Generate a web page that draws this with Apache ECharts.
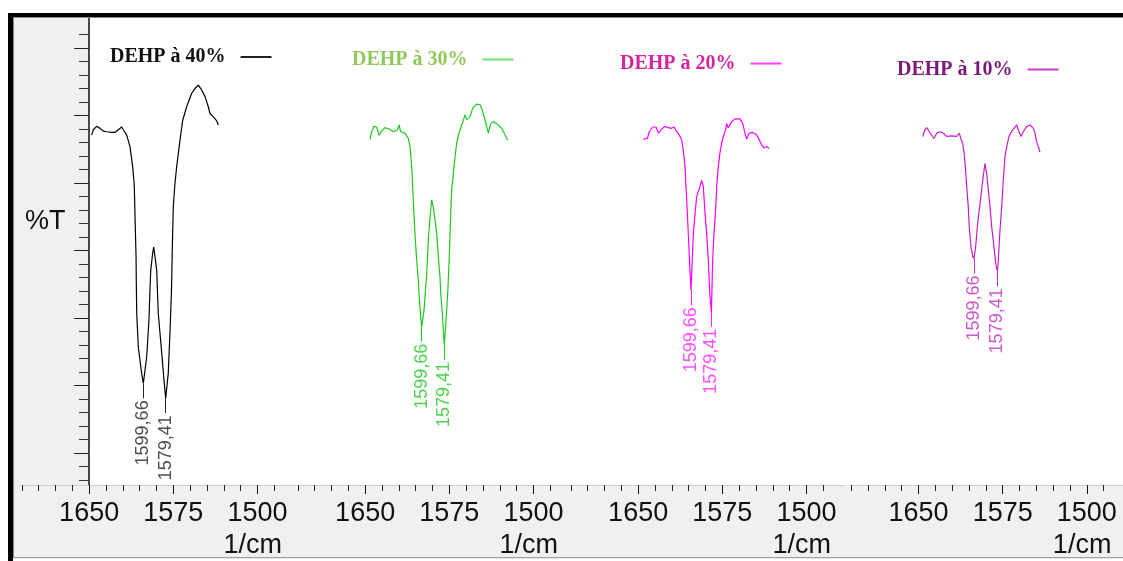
<!DOCTYPE html>
<html><head><meta charset="utf-8">
<script src="https://cdn.jsdelivr.net/npm/echarts@6/dist/echarts.min.js"></script>
<style>html,body{margin:0;padding:0;background:#fff}#c{width:1123px;height:561px}</style>
</head><body><div id="c"></div>
<script>
// ---------- DATA ----------
const seriesNames = ['DEHP à 40%', 'DEHP à 30%', 'DEHP à 20%', 'DEHP à 10%'];
const yAxisTitle = '%T';
const xAxisTitle = '1/cm';

const wn40 = [1647.7,1646.3,1643.3,1640.3,1637.4,1634.4,1629.9,1627,1624,1621,1619.6,1616.5,1613.6,1611.2,1609.8,1609.1,1608.2,1608,1607.6,1606.2,1603.2,1601.7,1598.7,1596.7,1595.8,1595.1,1593.4,1592.5,1591.3,1589.8,1588.4,1585.3,1583.3,1581.8,1579.5,1577.9,1576.6,1575.9,1575,1573.5,1572,1569,1566.6,1563.1,1558.6,1555.7,1552.7,1549.7,1546.7,1543.8,1542.3,1539.3,1536.3,1534.9];
const t40  = [57.1,57.9,58.4,58.1,57.7,57.6,57.5,57.5,57.9,58.3,57.9,57.1,55.4,52.4,49.7,45,39.1,35.6,30.7,25.7,21.8,20.3,24.3,29.7,34.1,37.1,39.6,40.5,39.1,37.1,30.7,24.8,20.8,18.1,21.8,28.2,34.1,40.3,46.5,50,52.4,56.4,59.3,61.3,63.3,64,64.5,63.8,62.8,61.3,60.3,59.8,59.2,58.6];

const wn30 = [1645.7,1644.2,1642.1,1639.7,1637.7,1635.2,1632.3,1628.5,1624.9,1621.3,1619.8,1618.3,1614.5,1611.5,1610,1608.5,1607.1,1605.6,1604.1,1602.6,1601.7,1600.5,1599.6,1597.5,1596,1595.1,1593.7,1592.2,1590.7,1589.3,1587.7,1586.2,1584.8,1583.3,1582.7,1581.2,1580.3,1579.5,1577.9,1576.4,1575,1573.8,1572.9,1571.4,1569.9,1568.4,1566.4,1563.9,1562.5,1561,1559.5,1556.6,1554.1,1550.6,1547.6,1545.6,1543.2,1540.2,1538.1,1535.8,1531.3,1528.3,1526.2,1523.8,1522.4];
const t30  = [56.5,57.6,58.4,58.3,57.1,57.7,58.2,58,57.6,57.9,58.6,57.6,57.4,56.6,55.4,52.4,47.5,42.5,38.6,35.6,32.7,30.2,28.7,31.2,34.6,36.6,41.6,45,47.5,46.5,44.5,42.5,39.1,36.1,33.7,30.7,28.2,26,29.7,33.7,39.1,45,49,51.4,53.9,55.9,57.4,58.6,59.3,60.1,59.4,59.8,61.1,61.7,61.6,60.8,59.3,57.4,58.8,59.1,58.6,58.1,57.4,56.6,56.4];

const wn20 = [1645.4,1641.8,1640.1,1637,1634.1,1632,1629,1626.1,1623.1,1620.7,1618,1615.6,1613.3,1611.2,1609.8,1608.2,1607.4,1606.7,1605.3,1604.4,1603.6,1602.9,1600.8,1599.3,1597.8,1594.9,1593.4,1591.9,1590.4,1588.9,1587.5,1586,1584.7,1583.6,1582.4,1581.1,1580,1578.6,1577,1575.5,1574.1,1572,1571.1,1569.7,1566.6,1563.7,1559.2,1556.8,1554.8,1553.3,1551.2,1547.9,1544.3,1542,1539.9,1537.8,1535.4,1533.1];
const t20  = [56.5,56.6,57.6,58.3,58.3,57.4,58,58.4,58.2,58.1,58.3,57.6,57.1,56.4,54.9,52.4,49.5,47.5,42.5,39.1,36.4,34.1,42.5,45.5,48,49.5,50.4,49.5,45.5,42.5,38.6,33.2,30.9,38.6,42.5,45.5,49.5,52.4,54.6,55.9,56.9,57.9,58.8,58.2,59.1,59.5,59.5,58.8,57.4,56.5,57.4,57.5,57.1,56.4,55.6,55.2,55.4,55.1];

const wn10 = [1646.3,1644.3,1642.7,1640.4,1636.2,1633.8,1630.9,1627.9,1624.9,1620.5,1616,1613.7,1612.4,1610.7,1609.5,1608.3,1607.1,1605.7,1604.8,1603.3,1601.7,1600.6,1599.1,1597.3,1594.8,1592.8,1590.8,1589.3,1587.8,1586.3,1584.8,1582.8,1581.2,1579.7,1578.9,1577.6,1575.9,1574.5,1573,1571.4,1569.4,1567,1564.9,1562.5,1560.5,1558.7,1556.6,1553.6,1550.7,1547.7,1546.2,1544.7,1543.3,1541.8];
const t10  = [56.9,57.9,58.2,57.6,56.6,57.4,57.6,57.4,56.9,57,56.9,57.4,56.6,55.9,54.6,52.4,49.5,46.5,43.5,40.6,39.1,38.8,40.6,44,47.5,50.4,52.9,51.4,49,46.5,43.5,40.6,38.1,36.9,38.6,42.5,46.5,50.4,53.9,55.4,56.9,57.7,58.1,58.6,57.6,56.9,57.6,58.4,58.6,58.1,57.4,56.1,55.4,54.6];

// annotated band minima [wavenumber, %T] and their labels
const peakLabels = ['1599,66', '1579,41'];
const peaks40 = [[1601.7, 20.3], [1581.8, 18.1]];
const peaks30 = [[1599.6, 28.7], [1579.5, 26.0]];
const peaks20 = [[1602.9, 34.1], [1584.7, 30.9]];
const peaks10 = [[1600.6, 38.8], [1579.7, 36.9]];

// axis ticks
const xTickLabels = [1650, 1575, 1500];
const xMinorTicks = [1710, 1695, 1680, 1665, 1635, 1620, 1605, 1590, 1560, 1545, 1530, 1515, 1485];
const yMajorTicks = [10, 20, 30, 40, 50, 60, 70];
const yMinorTicks = [6, 8, 12, 14, 16, 18, 22, 24, 26, 28, 32, 34, 36, 38, 42, 44, 46, 48, 52, 54, 56, 58, 62, 64, 66, 68, 72];

// ---------- LAYOUT / STYLE ----------
const FONT = "'Liberation Sans', Arial, sans-serif";
const SERIF = "'Liberation Serif', 'Times New Roman', serif";
const X_MIN = 1466, X_MAX = 1710, Y_MIN = 5.26, Y_MAX = 74.6;
const PX = 1.122;                       // px per cm-1
const panelX1575 = [173.3, 449.3, 722.3, 1002.7];
const DASH = 2.2, LABEL_GAP = 2.5;      // in %T units (≈15px / 17px)
const lineColors = ['#000000', '#1fc81f', '#ff00ff', '#c81ec8'];
const labelColors = ['#222222', '#22c822', '#ff22ff', '#c030c0'];
const legendTextColors = ['#111111', '#92c85a', '#d4249e', '#7a1a78'];
const legendIconColors = ['#222222', '#70dc70', '#ff3cff', '#cc3acc'];
const legendPos = [[110, 47], [352, 49.5], [620, 53.5], [897, 59.5]];

const spectra = [[wn40, t40], [wn30, t30], [wn20, t20], [wn10, t10]];
const peaks = [peaks40, peaks30, peaks20, peaks10];

const grid = panelX1575.map(x => ({
  left: x - (X_MAX - 1575) * PX, top: 17, width: (X_MAX - X_MIN) * PX, height: 468,
  containLabel: false, outerBoundsMode: 'none'
}));

const xAxis = [], yAxis = [], series = [];
for (let k = 0; k < 4; k++) {
  xAxis.push({
    gridIndex: k, type: 'value', min: X_MIN, max: X_MAX, inverse: true, position: 'bottom', z: 3,
    axisLine: { show: true, onZero: false, lineStyle: { color: '#d2d2d2', width: 1 } },
    axisTick: { show: true, customValues: xTickLabels, length: 9, inside: false, lineStyle: { color: '#111', width: 1 } },
    axisLabel: { show: true, customValues: xTickLabels, formatter: v => String(v), fontSize: 27, fontFamily: FONT, color: '#111', margin: 15 },
    splitLine: { show: false },
    name: xAxisTitle, nameLocation: 'middle', nameGap: 46.5,
    nameTextStyle: { fontSize: 27, fontFamily: FONT, color: '#111', padding: [0, 0, 0, 188] }
  });
  xAxis.push({
    gridIndex: k, type: 'value', min: X_MIN, max: X_MAX, inverse: true, position: 'bottom', z: 3,
    axisLine: { show: false, onZero: false },
    axisTick: { show: true, customValues: xMinorTicks, length: 6, lineStyle: { color: '#222', width: 1 } },
    axisLabel: { show: false }, splitLine: { show: false }
  });
  yAxis.push({
    gridIndex: k, type: 'value', min: Y_MIN, max: Y_MAX, show: k === 0, position: 'left',
    offset: k === 0 ? -67.2 : 0, z: 3,
    axisLine: { show: true, onZero: false, lineStyle: { color: '#111', width: 1.5 } },
    axisTick: { show: true, customValues: yMajorTicks, length: 15, lineStyle: { color: '#222', width: 1 } },
    axisLabel: { show: false }, splitLine: { show: false }
  });

  const [wn, tt] = spectra[k];
  series.push({
    name: seriesNames[k], type: 'line', xAxisIndex: 2 * k, yAxisIndex: k,
    data: wn.map((w, i) => [w, tt[i]]),
    showSymbol: false, symbol: 'none', z: 4, animation: false, silent: true,
    lineStyle: { color: lineColors[k], width: 1.2 }, itemStyle: { color: lineColors[k] }
  });
  series.push({
    name: 'pics ' + seriesNames[k], type: 'scatter', xAxisIndex: 2 * k, yAxisIndex: k,
    symbolSize: 0, z: 4, animation: false, silent: true,
    data: peaks[k].map((p, i) => ({ value: [p[0], p[1] - LABEL_GAP], name: peakLabels[i] })),
    label: {
      show: true, position: [0, 0], formatter: d => d.name, rotate: 90, align: 'right', verticalAlign: 'middle',
      fontSize: 18, fontFamily: FONT, color: labelColors[k], textBorderWidth: 0
    },
    markLine: {
      silent: true, animation: false, symbol: ['none', 'none'], label: { show: false },
      lineStyle: { color: labelColors[k], width: 1, type: 'solid' },
      data: peaks[k].map(p => [{ coord: [p[0], p[1]] }, { coord: [p[0], p[1] - DASH] }])
    }
  });
}
yAxis.push({
  gridIndex: 0, type: 'value', min: Y_MIN, max: Y_MAX, position: 'left', offset: -67.2, z: 3,
  axisLine: { show: false, onZero: false },
  axisTick: { show: true, customValues: yMinorTicks, length: 10, lineStyle: { color: '#333', width: 1 } },
  axisLabel: { show: false }, splitLine: { show: false }
});

const legend = seriesNames.map((n, i) => ({
  data: [{ name: n, icon: 'rect', itemStyle: { color: legendIconColors[i] } }],
  left: legendPos[i][0], top: legendPos[i][1], padding: 0, orient: 'horizontal',
  itemWidth: 31, itemHeight: 2, align: 'right', selectedMode: false,
  textStyle: { fontFamily: SERIF, fontWeight: 'bold', fontSize: 20, color: legendTextColors[i], padding: [0, 10, 0, 0] }
}));

const graphic = { elements: [
  { type: 'rect', z: 0, silent: true, shape: { x: 13, y: 17, width: 76, height: 468 }, style: { fill: '#f0f0f0' } },
  { type: 'rect', z: 0, silent: true, shape: { x: 13, y: 485, width: 1110, height: 72.5 }, style: { fill: '#f0f0f0' } },
  { type: 'text', z: 5, silent: true, x: 25, y: 222,
    style: { text: yAxisTitle, fontSize: 27, fontFamily: FONT, fill: '#111', align: 'left', verticalAlign: 'middle' } },
  { type: 'rect', z: 10, silent: true, shape: { x: 13, y: 557, width: 1110, height: 1.2 }, style: { fill: '#a0a0a0' } },
  { type: 'rect', z: 10, silent: true, shape: { x: 8, y: 13, width: 1115, height: 4 }, style: { fill: '#000' } },
  { type: 'rect', z: 10, silent: true, shape: { x: 13, y: 17, width: 1110, height: 1 }, style: { fill: '#8a8a8a' } },
  { type: 'rect', z: 10, silent: true, shape: { x: 8, y: 13, width: 5, height: 548 }, style: { fill: '#000' } },
  { type: 'rect', z: 10, silent: true, shape: { x: 13, y: 17, width: 1, height: 541 }, style: { fill: '#8a8a8a' } }
] };

const chart = echarts.init(document.getElementById('c'), null, { renderer: 'canvas', width: 1123, height: 561 });
chart.setOption({
  backgroundColor: '#ffffff',
  animation: false,
  grid, xAxis, yAxis, series, legend, graphic
});
</script>
</body></html>
